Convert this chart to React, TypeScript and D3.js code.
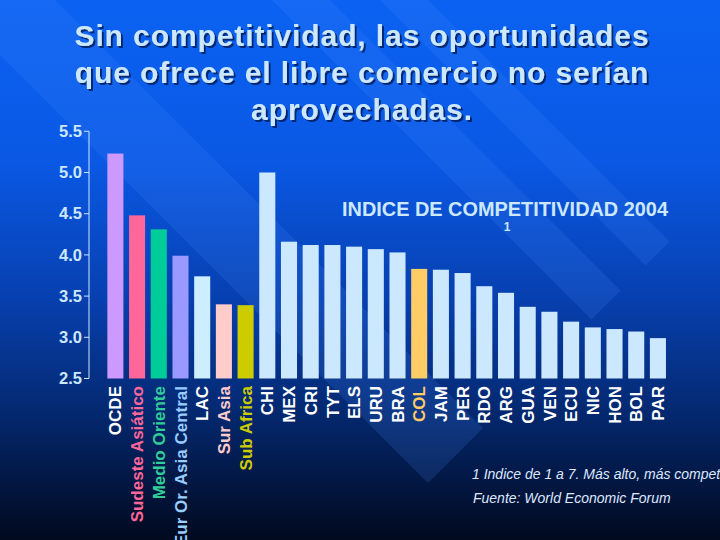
import React from "react";
import * as d3 from "d3";

const categories = [
  "OCDE", "Sudeste Asiático", "Medio Oriente", "Eur Or. Asia Central", "LAC", "Sur Asia", "Sub Africa",
  "CHI", "MEX", "CRI", "TYT", "ELS", "URU", "BRA", "COL", "JAM", "PER", "RDO", "ARG", "GUA", "VEN",
  "ECU", "NIC", "HON", "BOL", "PAR",
];
const values = [
  5.23, 4.48, 4.31, 3.99, 3.74, 3.40, 3.39,
  5.00, 4.16, 4.12, 4.12, 4.10, 4.07, 4.03, 3.83, 3.82, 3.78, 3.62, 3.54, 3.37, 3.31,
  3.19, 3.12, 3.10, 3.07, 2.99,
];
const barColors = [
  "#cc99ff", "#ff6699", "#00cc99", "#9999ff", "#cceeff", "#ffcccc", "#cccc00",
  "#cce8ff", "#cce8ff", "#cce8ff", "#cce8ff", "#cce8ff", "#cce8ff", "#cce8ff", "#ffcc66", "#cce8ff",
  "#cce8ff", "#cce8ff", "#cce8ff", "#cce8ff", "#cce8ff", "#cce8ff", "#cce8ff", "#cce8ff", "#cce8ff", "#cce8ff",
];
const labelColors = [
  "#ffffff", "#ff6699", "#33cc99", "#99ccff", "#ffffff", "#ffcccc", "#cccc00",
  "#ffffff", "#ffffff", "#ffffff", "#ffffff", "#ffffff", "#ffffff", "#ffffff", "#ffcc66", "#ffffff",
  "#ffffff", "#ffffff", "#ffffff", "#ffffff", "#ffffff", "#ffffff", "#ffffff", "#ffffff", "#ffffff", "#ffffff",
];
const yTicks = [2.5, 3.0, 3.5, 4.0, 4.5, 5.0, 5.5];
const titleLines = [
  "Sin competitividad, las oportunidades",
  "que ofrece el libre comercio no serían",
  "aprovechadas.",
];
const subtitle = "INDICE DE COMPETITIVIDAD 2004";
const footnotes = [
  "1 Indice de 1 a 7. Más alto, más competitivo",
  "Fuente: World Economic Forum",
];

// background diagonal bands: offsets c for lines y = x + c (lower edge, upper edge)
const bands = [
  [55, -55],
  [-272, -330],
  [-380, -428],
];

export default function App() {
  const W = 720, H = 540;
  const x = d3.scaleBand<string>().domain(categories).range([96.5, 676.8]).paddingInner(0.26).paddingOuter(0.5);
  const y = d3.scaleLinear().domain([2.5, 5.5]).range([378.5, 131.3]);
  const font = "Arial, 'Liberation Sans', Helvetica, sans-serif";
  const cut = 911;

  return (
    <svg width={W} height={H} style={{ position: "absolute", left: 0, top: 0, display: "block" }} fontFamily={font}>
      <defs>
        <linearGradient id="bg" x1="0" y1="0" x2="0" y2="1">
          <stop offset="0" stopColor="#0b62f2" />
          <stop offset="0.3" stopColor="#0a58e4" />
          <stop offset="0.55" stopColor="#0740b0" />
          <stop offset="0.75" stopColor="#042a74" />
          <stop offset="0.9" stopColor="#021640" />
          <stop offset="1" stopColor="#010a1e" />
        </linearGradient>
        <clipPath id="lblclip">
          <rect x={0} y={377} width={W} height={H} />
        </clipPath>
        <filter id="shadow" x="-5%" y="-20%" width="110%" height="150%">
          <feDropShadow dx={2} dy={2} stdDeviation={0.6} floodColor="#001a55" floodOpacity={0.8} />
        </filter>
      </defs>
      <rect x={0} y={0} width={W} height={H} fill="url(#bg)" />
      {bands.map(([lo, hi], i) => {
        const pts = [
          [-lo, 0],
          [-hi, 0],
          [(cut - hi) / 2, (cut + hi) / 2],
          [(cut - lo) / 2, (cut + lo) / 2],
        ];
        return <polygon key={i} points={pts.map(p => p.join(",")).join(" ")} fill="#4d8cff" opacity={0.16} />;
      })}

      {/* title */}
      <g filter="url(#shadow)">
        {titleLines.map((t, i) => (
          <text key={i} x={362} y={46 + i * 37} textAnchor="middle" fontSize={30} fontWeight="bold"
            letterSpacing={0.9} fill="#cce8ff">{t}</text>
        ))}
      </g>

      {/* y axis */}
      <line x1={89} x2={89} y1={y(5.5)} y2={y(2.5)} stroke="#cce8ff" strokeWidth={1} />
      {yTicks.map(t => (
        <g key={t}>
          <line x1={84} x2={89} y1={y(t)} y2={y(t)} stroke="#cce8ff" strokeWidth={1} />
          <text x={82} y={y(t)} dy="0.35em" textAnchor="end" fontSize={16.5} fontWeight="bold" fill="#cce8ff">{t.toFixed(1)}</text>
        </g>
      ))}

      {/* bars */}
      {categories.map((c, i) => (
        <rect key={c} x={x(c)} y={y(values[i])} width={x.bandwidth()} height={y(2.5) - y(values[i])} fill={barColors[i]} />
      ))}

      {/* category labels */}
      <g clipPath="url(#lblclip)">
        {categories.map((c, i) => {
          const cx = (x(c) as number) + x.bandwidth() / 2;
          const ty = 386;
          return (
            <text key={c} x={cx} y={ty} dy="0.36em" transform={`rotate(-90 ${cx} ${ty})`} textAnchor="end"
              fontSize={17} fontWeight="bold" fill={labelColors[i]}>{c}</text>
          );
        })}
      </g>

      {/* subtitle */}
      <text x={342} y={216} fontSize={19.5} fontWeight="bold" fill="#cce8ff" textLength={326} lengthAdjust="spacingAndGlyphs">{subtitle}</text>
      <text x={507} y={231} textAnchor="middle" fontSize={12} fontWeight="bold" fill="#cce8ff">1</text>

      {/* footnotes */}
      <text x={472} y={479} fontSize={14} fontStyle="italic" fill="#dde8ff">{footnotes[0]}</text>
      <text x={473} y={503} fontSize={14} fontStyle="italic" fill="#dde8ff">{footnotes[1]}</text>
    </svg>
  );
}
